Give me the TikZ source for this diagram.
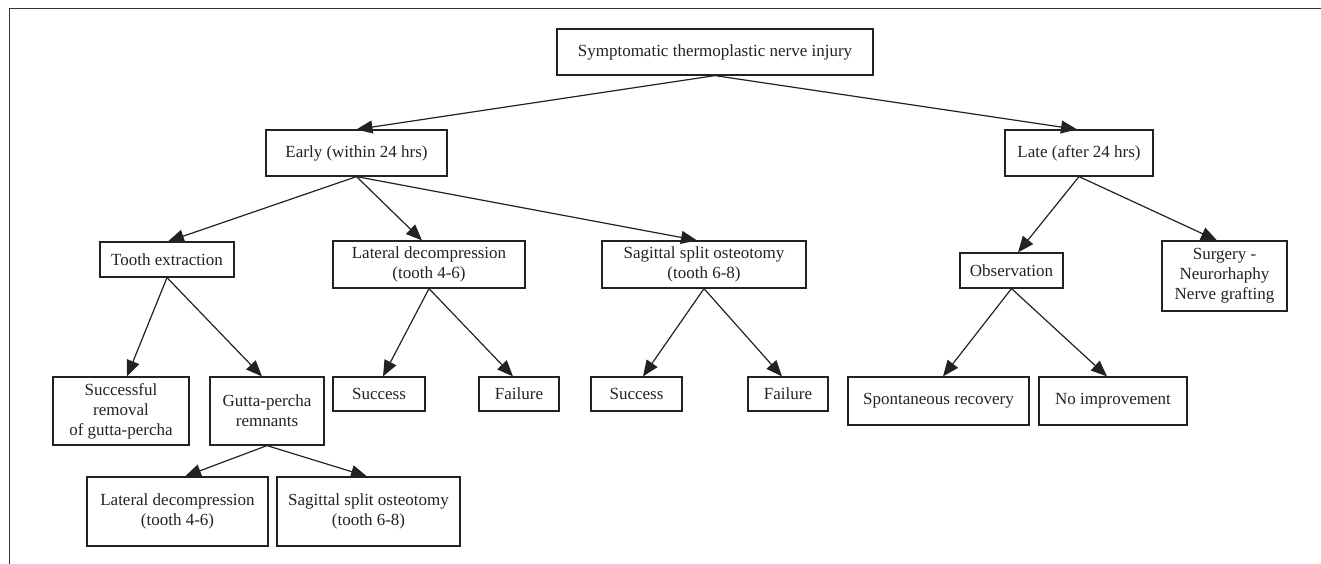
\documentclass[tikz,border=0pt]{standalone}
\usepackage{fontspec}
\setmainfont{Liberation Serif}
\usetikzlibrary{arrows.meta}
\definecolor{ink}{HTML}{222222}
\definecolor{framec}{HTML}{333333}
\tikzset{
  box/.style={draw=ink, line width=1.2pt, inner sep=0pt, align=center, text=ink,
    font=\fontsize{17}{20}\selectfont},
  arr/.style={draw=ink, line width=1.2pt, -{Triangle[length=16pt,width=13pt]}},
}
\begin{document}
\begin{tikzpicture}[x=1pt,y=-1pt]
\useasboundingbox (0,0) rectangle (1321,564);
\draw[framec, line width=1pt] (9,564) -- (9,9) -- (1321,9);

\node[box, minimum width=316pt, minimum height=46pt] (root) at (715,52) {Symptomatic thermoplastic nerve injury};
\node[box, minimum width=181pt, minimum height=46pt] (early) at (356.5,153) {Early (within 24 hrs)};
\node[box, minimum width=148pt, minimum height=46pt] (late) at (1079,153) {Late (after 24 hrs)};

\node[box, minimum width=134pt, minimum height=35pt] (tooth) at (167,259.5) {Tooth extraction};
\node[box, minimum width=192pt, minimum height=47pt] (latd) at (429,264.5) {Lateral decompression\\(tooth 4-6)};
\node[box, minimum width=204pt, minimum height=47pt] (sag) at (704,264.5) {Sagittal split osteotomy\\(tooth 6-8)};
\node[box, minimum width=103pt, minimum height=35pt] (obs) at (1011.5,270.5) {Observation};
\node[box, minimum width=125pt, minimum height=70pt] (surg) at (1224.5,276) {Surgery -\\Neurorhaphy\\Nerve grafting};

\node[box, minimum width=136pt, minimum height=68pt] (succrem) at (121,411) {Successful\\removal\\of gutta-percha};
\node[box, minimum width=114pt, minimum height=68pt] (gutta) at (267,411) {Gutta-percha\\remnants};
\node[box, minimum width=92pt, minimum height=34pt] (s1) at (379,394) {Success};
\node[box, minimum width=80pt, minimum height=34pt] (f1) at (519,394) {Failure};
\node[box, minimum width=91pt, minimum height=34pt] (s2) at (636.5,394) {Success};
\node[box, minimum width=80pt, minimum height=34pt] (f2) at (788,394) {Failure};
\node[box, minimum width=181pt, minimum height=48pt] (spont) at (938.5,401) {Spontaneous recovery};
\node[box, minimum width=148pt, minimum height=48pt] (noimp) at (1113,401) {No improvement};

\node[box, minimum width=181pt, minimum height=69pt] (lat2) at (177.5,511.5) {Lateral decompression\\(tooth 4-6)};
\node[box, minimum width=183pt, minimum height=69pt] (sag2) at (368.5,511.5) {Sagittal split osteotomy\\(tooth 6-8)};

\draw[arr] (root.south) -- (early.north);
\draw[arr] (root.south) -- ([xshift=-2pt]late.north);
\draw[arr] (early.south) -- ([xshift=1pt]tooth.north);
\draw[arr] (early.south) -- ([xshift=-7pt]latd.north);
\draw[arr] (early.south) -- ([xshift=-7pt]sag.north);
\draw[arr] (late.south) -- ([xshift=6.5pt]obs.north);
\draw[arr] (late.south) -- ([xshift=-7.5pt]surg.north);
\draw[arr] (tooth.south) -- ([xshift=6pt]succrem.north);
\draw[arr] (tooth.south) -- ([xshift=-5pt]gutta.north);
\draw[arr] (latd.south) -- ([xshift=4pt]s1.north);
\draw[arr] (latd.south) -- ([xshift=-6pt]f1.north);
\draw[arr] (sag.south) -- ([xshift=6.5pt]s2.north);
\draw[arr] (sag.south) -- ([xshift=-6pt]f2.north);
\draw[arr] (obs.south) -- ([xshift=4.5pt]spont.north);
\draw[arr] (obs.south) -- ([xshift=-6pt]noimp.north);
\draw[arr] (gutta.south) -- ([xshift=7.5pt]lat2.north);
\draw[arr] (gutta.south) -- ([xshift=-1.5pt]sag2.north);
\end{tikzpicture}
\end{document}
